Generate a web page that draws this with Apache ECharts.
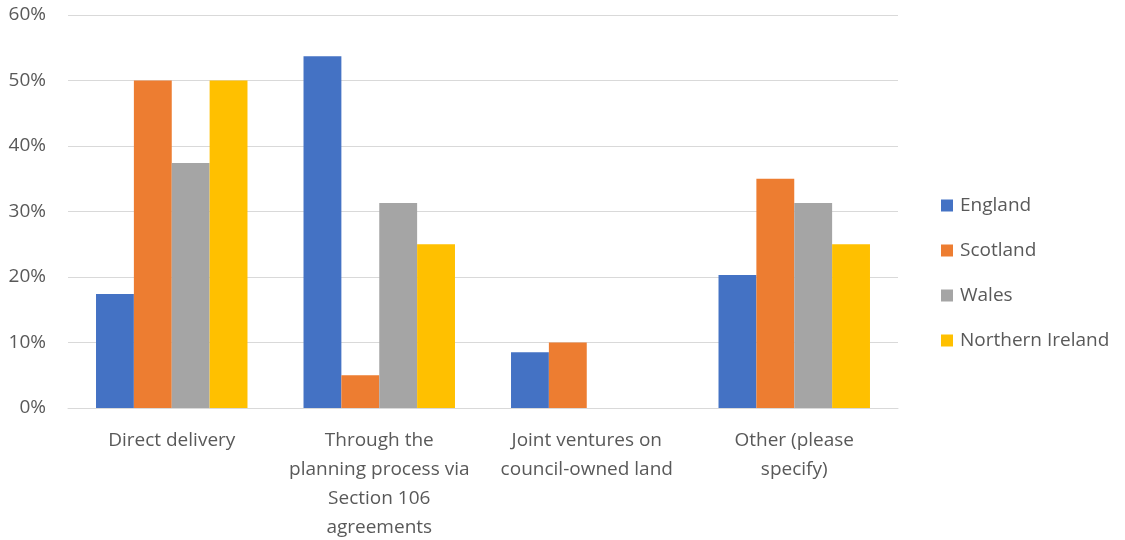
<!DOCTYPE html>
<html>
<head>
<meta charset="utf-8">
<script src="https://cdn.jsdelivr.net/npm/echarts@6/dist/echarts.min.js"></script>
<style>
  html, body { margin: 0; padding: 0; background: #fff; }
  #chart { width: 1125px; height: 540px; }
</style>
</head>
<body>
<div id="chart"></div>
<script>
// Delivery routes by nation (share of respondents, %)
const categories = [
  'Direct delivery',
  'Through the\nplanning process via\nSection 106\nagreements',
  'Joint ventures on\ncouncil-owned land',
  'Other (please\nspecify)'
];
const england = [17.4, 53.7, 8.5, 20.3];
const scotland = [50, 5, 10, 35];
const wales = [37.4, 31.3, 0, 31.3];
const northernIreland = [50, 25, 0, 25];
const yTicks = [0, 10, 20, 30, 40, 50, 60];

const FONT = "'Liberation Sans Narrow', 'Open Sans', 'Noto Sans', sans-serif";
const TEXT = '#595959';

const chart = echarts.init(document.getElementById('chart'));

function bar(name, data, color) {
  return {
    name, type: 'bar', data,
    barGap: '0%', barCategoryGap: '27%',
    itemStyle: { color },
    emphasis: { disabled: true }
  };
}

chart.setOption({
  animation: false,
  textStyle: { fontFamily: FONT },
  grid: {
    left: 68, right: 227, top: 15, bottom: 132,
    containLabel: false, outerBoundsMode: 'none'
  },
  legend: {
    orient: 'vertical', left: 941, top: 196, padding: 0,
    itemWidth: 12, itemHeight: 12, itemGap: 26,
    icon: 'rect',
    textStyle: { fontFamily: FONT, fontSize: 19, color: TEXT, padding: [0, 0, 0, 2] },
    data: ['England', 'Scotland', 'Wales', 'Northern Ireland']
  },
  xAxis: {
    type: 'category', data: categories,
    axisLine: { lineStyle: { color: '#d9d9d9', width: 1 } },
    axisTick: { show: false },
    axisLabel: {
      interval: 0, margin: 18, color: TEXT, fontSize: 19, lineHeight: 29,
      fontFamily: FONT, align: 'center'
    }
  },
  yAxis: {
    type: 'value', min: yTicks[0], max: yTicks[yTicks.length - 1], interval: 10,
    axisLine: { show: false }, axisTick: { show: false },
    splitLine: { lineStyle: { color: '#d9d9d9', width: 1 } },
    axisLabel: {
      margin: 22, color: TEXT, fontSize: 19, fontFamily: FONT,
      formatter: v => v + '%'
    }
  },
  series: [
    bar('England', england, '#4472c4'),
    bar('Scotland', scotland, '#ed7d31'),
    bar('Wales', wales, '#a5a5a5'),
    bar('Northern Ireland', northernIreland, '#ffc000')
  ]
});
</script>
</body>
</html>
